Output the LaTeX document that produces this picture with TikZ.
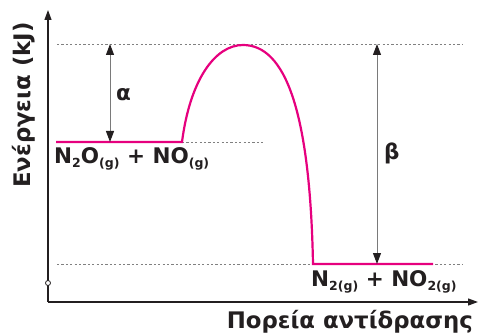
\documentclass[tikz,border=0pt]{standalone}
\usepackage{fontspec}
\setmainfont{DejaVu Sans}
\usetikzlibrary{arrows.meta}
\definecolor{curvepink}{HTML}{E6007E}
\definecolor{axisdark}{HTML}{231F20}
\definecolor{dotgray}{HTML}{808080}
\definecolor{arrowgray}{HTML}{7A7A7A}
\tikzset{
  axisline/.style={draw=axisdark, line width=1.2pt, -{Triangle[length=10pt,width=7pt]}},
  guide/.style={draw=dotgray, line width=0.8pt, dash pattern=on 2.2pt off 2.2pt},
  energy/.style={draw=curvepink, line width=2.2pt},
  gap/.style={draw=arrowgray, line width=1pt, {Triangle[length=11pt,width=8pt,color=axisdark]}-{Triangle[length=11pt,width=8pt,color=axisdark]}},
  lbl/.style={font=\bfseries\fontsize{21.5}{24}\selectfont, text=axisdark, inner sep=0pt},
  axlbl/.style={font=\bfseries\fontsize{22.8}{25}\selectfont, text=axisdark, inner sep=0pt},
}
\newcommand{\gs}[1]{\raisebox{-4pt}{\fontsize{12.5}{13}\selectfont #1}}
\begin{document}
\begin{tikzpicture}[x=1pt,y=-1pt]
\useasboundingbox (0,0) rectangle (479,334);
% key coordinates
\coordinate (origin) at (48,302);
\coordinate (ytop) at (48,10);
\coordinate (xend) at (478,302);
\coordinate (topL) at (57,44);
\coordinate (topR) at (463,44);
\coordinate (botL) at (57,264);
\coordinate (botR) at (463,264);
\coordinate (midR) at (263,142);
\coordinate (rA) at (56,142);
\coordinate (rB) at (182,142);
\coordinate (peak) at (243,45);
\coordinate (pA) at (313,264);
\coordinate (pB) at (433,264);
\coordinate (aTop) at (110,44);
\coordinate (aBot) at (110,142);
\coordinate (bTop) at (377,44);
\coordinate (bBot) at (377,264);
% guides
\draw[guide] (topL) -- (topR);
\draw[guide] (botL) -- (botR);
\draw[guide] (rB) -- (midR);
% axes
\draw[axisline] (origin) -- (ytop);
\draw[axisline] (origin) -- (xend);
\node[draw=axisdark, fill=white, circle, line width=0.8pt, inner sep=0pt, minimum size=5pt] (mark0) at (48,283) {};
% energy profile
\draw[energy] (rA) -- (rB) .. controls (190,80) and (215,45) .. (peak)
  .. controls (285,45) and (310,110) .. (pA) -- (pB);
% gaps
\draw[gap] (aTop) -- (aBot);
\draw[gap] (bTop) -- (bBot);
\node[lbl, anchor=west] (alpha) at (116,95) {α};
\node[lbl, anchor=west] (beta) at (384,153) {β};
% labels
\node[lbl, anchor=base west] (react) at (54,163) {N\gs{2}O\gs{(g)} + NO\gs{(g)}};
\node[lbl, anchor=base west] (prod) at (311,286) {N\gs{2(g)} + NO\gs{2(g)}};
\node[axlbl, anchor=base east] (xlab) at (473,328) {Πορεία αντίδρασης};
\node[axlbl, rotate=90] (ylab) at (24,105) {Ενέργεια (kJ)};
\end{tikzpicture}
\end{document}
